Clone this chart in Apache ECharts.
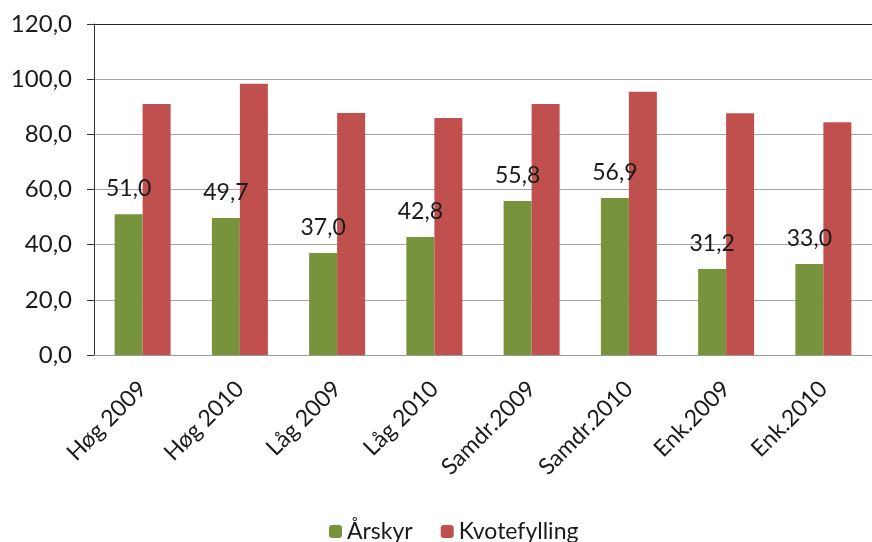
<!DOCTYPE html>
<html lang="no">
<head>
    <meta charset="UTF-8">
    <title>Årskyr og kvotefylling</title>
    <style>
        body { margin: 0; background: #fff; }
    </style>
</head>
<body>
    <div id="app" style="width: 872px;height:542px;"></div>
    <script src="https://cdn.jsdelivr.net/npm/echarts@6/dist/echarts.min.js"></script>
    <script>
        const categories = ['Høg 2009', 'Høg 2010', 'Låg 2009', 'Låg 2010', 'Samdr.2009', 'Samdr.2010', 'Enk.2009', 'Enk.2010'];
        const arskyr = [51.0, 49.7, 37.0, 42.8, 55.8, 56.9, 31.2, 33.0];
        const kvotefylling = [91.0, 98.3, 87.7, 85.9, 91.0, 95.4, 87.6, 84.4];
        const seriesNames = ['Årskyr', 'Kvotefylling'];

        const font = 'Lato, "Open Sans", sans-serif';
        const fmt = v => v.toFixed(1).replace('.', ',');

        const myChart = echarts.init(document.getElementById('app'));
        const options = {
            animation: false,
            textStyle: { fontFamily: font },
            grid: { left: 94, top: 24, width: 784, height: 331 },
            legend: {
                left: 324, top: 515,
                itemWidth: 13, itemHeight: 13, itemGap: 28,
                textStyle: { fontSize: 23, color: '#1a1a1a', fontFamily: font },
                data: seriesNames
            },
            xAxis: {
                type: 'category',
                data: categories,
                axisLine: { lineStyle: { color: '#9a9a9a' } },
                axisTick: { length: 6, lineStyle: { color: '#9a9a9a' } },
                axisLabel: { rotate: 45, fontSize: 23, color: '#1a1a1a', margin: 30, interval: 0 }
            },
            yAxis: {
                type: 'value',
                min: 0, max: 120, interval: 20,
                axisLine: { show: true, lineStyle: { color: '#333' } },
                axisTick: { show: true, length: 7, lineStyle: { color: '#333' } },
                axisLabel: { fontSize: 24, color: '#1a1a1a', margin: 22, formatter: fmt },
                splitLine: { lineStyle: { color: ['#a6a6a6', '#a6a6a6', '#a6a6a6', '#a6a6a6', '#a6a6a6', '#a6a6a6', '#222'] } }
            },
            series: [{
                name: seriesNames[0],
                type: 'bar',
                data: arskyr,
                barWidth: 28,
                barGap: '0%',
                itemStyle: { color: '#77933C' },
                label: {
                    show: true, position: 'top', distance: 14,
                    fontSize: 23, color: '#1a1a1a',
                    formatter: p => fmt(p.value)
                }
            }, {
                name: seriesNames[1],
                type: 'bar',
                data: kvotefylling,
                barWidth: 28,
                itemStyle: { color: '#C0504D' }
            }]
        };
        myChart.setOption(options);
    </script>
</body>
</html>
